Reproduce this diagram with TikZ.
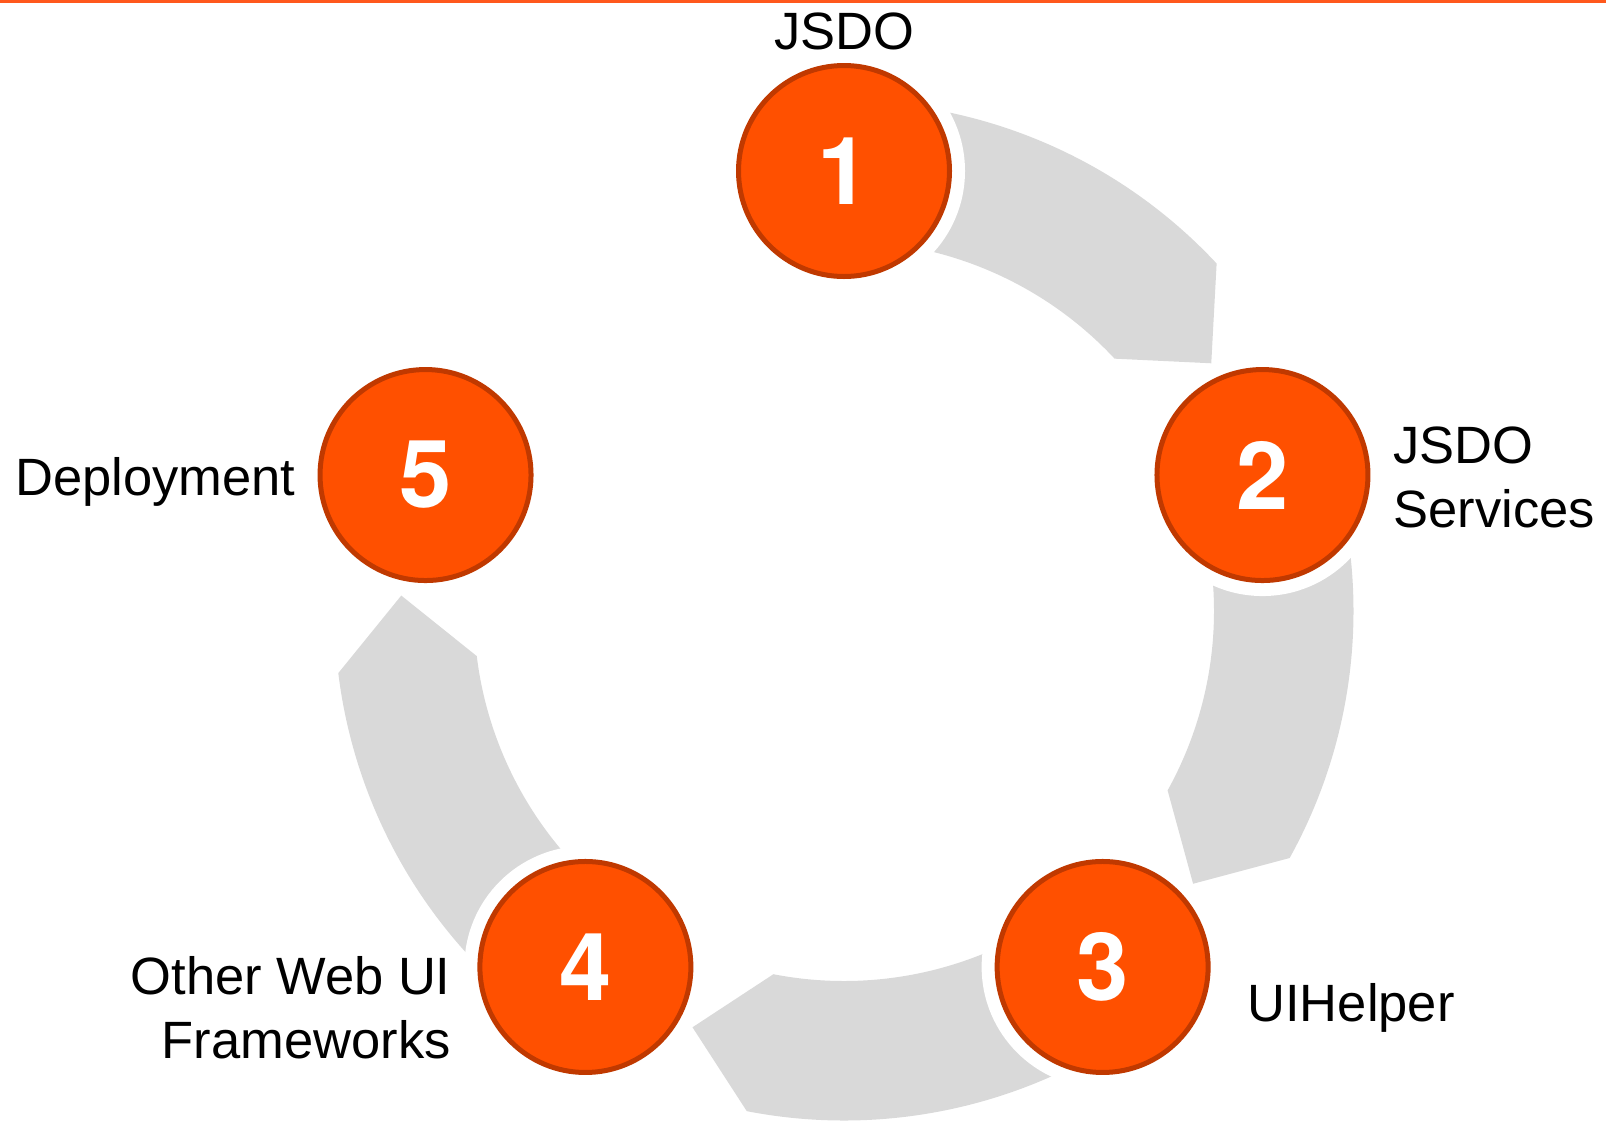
\documentclass[tikz,border=0pt]{standalone}
\usepackage{fontspec}
\setmainfont{Liberation Sans}
\newfontfamily\numfont{TeX Gyre Heros}
\usetikzlibrary{calc}
\definecolor{cycorange}{RGB}{255,80,0}
\definecolor{cycedge}{RGB}{192,57,0}
\definecolor{cycgray}{RGB}{217,217,217}
\definecolor{topline}{RGB}{255,88,28}
\begin{document}
\begin{tikzpicture}[x=0.5pt,y=0.5pt,
  stepnode/.style={circle, draw=cycedge, line width=2.5pt, fill=cycorange,
    minimum size=105.5pt, inner sep=0pt, text=white,
    font=\numfont\fontsize{47}{47}\selectfont\bfseries},
  halo/.style={fill=white},
  band/.style={fill=cycgray},
  lbl/.style={inner sep=0pt, font=\fontsize{26.25}{32}\selectfont}]
\useasboundingbox (0,0) rectangle (1606,-1120);
\fill[topline] (0,0) rectangle (1606,-2.5);
\coordinate (C) at (844,-611);
\foreach \i/\a in {1/90,2/18,3/-54,4/-126,5/-198}
  \coordinate (p\i) at ($(C)+(\a:440)$);
% cycle arrows
\foreach \a in {90,18,-54,-126} {
  \fill[band] ($(C)+(\a:509.5)$) arc[start angle=\a, end angle=\a-47, radius=509.5]
    -- ($(C)+(\a-56:443)$) -- ($(C)+(\a-47:370)$)
    arc[start angle=\a-47, end angle=\a, radius=370] -- cycle;
}
% white halos
\foreach \i in {1,...,5} \fill[halo] (p\i) circle[radius=121];
% step circles
\node[stepnode] (n1) at (p1) {\raisebox{-1.5pt}{1}};
\node[stepnode] (n2) at (p2) {\raisebox{-1.5pt}{2}};
\node[stepnode] (n3) at (p3) {\raisebox{-1.5pt}{3}};
\node[stepnode] (n4) at (p4) {\raisebox{-1.5pt}{4}};
\node[stepnode] (n5) at (p5) {\raisebox{-1.5pt}{5}};
% labels
\node[lbl, anchor=base] (l1) at (844,-49) {JSDO};
\node[lbl, anchor=base west, align=left] (l2) at (1393,-527) {JSDO\\Services};
\node[lbl, anchor=base west] (l3) at (1247,-1021) {UIHelper};
\node[lbl, anchor=base east, align=right] (l4) at (451,-1058) {Other Web UI\\Frameworks};
\node[lbl, anchor=base west] (l5) at (15,-495) {Deployment};
\end{tikzpicture}
\end{document}
